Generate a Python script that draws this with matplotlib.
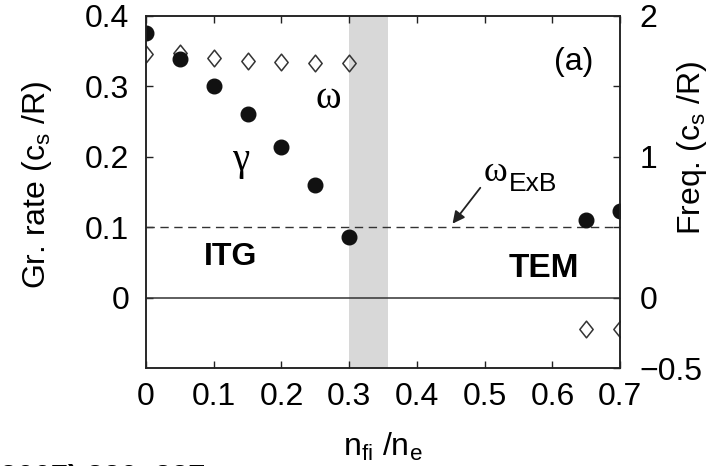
import numpy as np
import matplotlib.pyplot as plt
from matplotlib.path import Path

plt.rcParams['font.family'] = ['Liberation Sans', 'DejaVu Sans']
plt.rcParams['mathtext.fontset'] = 'custom'
plt.rcParams['mathtext.rm'] = 'Liberation Sans'
plt.rcParams['mathtext.it'] = 'Liberation Sans:italic'

# growth rate gamma (left axis) and real frequency omega (right axis)
n_fi = [0.0, 0.05, 0.1, 0.15, 0.2, 0.25, 0.3, 0.65, 0.7]
gamma = [0.376, 0.339, 0.301, 0.261, 0.214, 0.160, 0.086, 0.110, 0.123]
omega = [1.73, 1.74, 1.70, 1.68, 1.67, 1.665, 1.665, -0.22, -0.22]
w_exb = 0.1
band = [0.3, 0.357]

xticks = [0, 0.1, 0.2, 0.3, 0.4, 0.5, 0.6, 0.7]
xticklabels = ['0', '0.1', '0.2', '0.3', '0.4', '0.5', '0.6', '0.7']
lticks = [0, 0.1, 0.2, 0.3, 0.4]
lticklabels = ['0', '0.1', '0.2', '0.3', '0.4']
rticks = [-0.5, 0, 0.5, 1, 1.5, 2]
rticklabels = ['\u22120.5', '0', '', '1', '', '2']

fs = 23
edge = '#222222'

fig = plt.figure(figsize=(7.11, 4.66), dpi=100)
ax = fig.add_axes([0.2053, 0.2103, 0.667, 0.7554])
ax2 = ax.twinx()
ax.set_zorder(ax2.get_zorder() + 1)
ax.patch.set_visible(False)

ax2.axvspan(band[0], band[1], color='#d8d8d8', lw=0, zorder=0)

diamond = Path([(0, 1), (0.8, 0), (0, -1), (-0.8, 0), (0, 1)],
               [Path.MOVETO, Path.LINETO, Path.LINETO, Path.LINETO, Path.CLOSEPOLY])
ax2.plot(n_fi, omega, ls='none', marker=diamond, ms=12, mfc='none',
         mec='#333333', mew=1.1)

ax.axhline(w_exb, color='#333333', lw=1, ls=(0, (6, 4)))
ax.axhline(0, color='#333333', lw=1.1)
ax.plot(n_fi, gamma, ls='none', marker='o', ms=10.5, color='#111111')

ax.set_xlim(0, 0.7)
ax.set_ylim(-0.1, 0.4)
ax2.set_ylim(-0.5, 2)

ax.set_xticks(xticks)
ax.set_xticklabels(xticklabels)
ax.set_yticks(lticks)
ax.set_yticklabels(lticklabels)
ax2.set_yticks(rticks)
ax2.set_yticklabels(rticklabels)

ax.tick_params(axis='x', direction='in', top=True, length=5, width=1,
               color=edge, labelsize=fs, pad=10)
ax.tick_params(axis='y', direction='in', length=5, width=1, color=edge,
               labelsize=fs, pad=12)
ax2.tick_params(axis='y', direction='in', length=5, width=1, color=edge,
                labelsize=fs, pad=14)
for a in (ax, ax2):
    for s in a.spines.values():
        s.set_color(edge)
        s.set_linewidth(1.1)

ax.set_xlabel('n$_\\mathrm{fi}$ /n$_\\mathrm{e}$', fontsize=fs, va='center')
ax.xaxis.set_label_coords(0.5, -0.225)
ax.set_ylabel('Gr. rate (c$_\\mathrm{s}$ /R)', fontsize=fs, va='center')
ax.yaxis.set_label_coords(-0.23, 0.52)
ax2.set_ylabel('Freq. (c$_\\mathrm{s}$ /R)', fontsize=fs, va='center')
ax2.yaxis.set_label_coords(1.152, 0.625)

ax.text(0.269, 0.283, '\u03c9', fontsize=28, family='Liberation Serif',
        ha='center', va='center')
ax.text(0.14, 0.195, '\u03b3', fontsize=28, family='Liberation Serif',
        ha='center', va='center')
ax.text(0.66, 0.335, '(a)', fontsize=fs, ha='right', va='center')
ax.text(0.5155, 0.177, '\u03c9', fontsize=26, family='Liberation Serif',
        ha='center', va='center')
ax.text(0.535, 0.161, 'ExB', fontsize=19, ha='left', va='center')
ax.annotate('', xy=(0.4525, 0.105), xytext=(0.4935, 0.156),
            arrowprops=dict(arrowstyle='-|>', color='#222222', lw=1.3,
                            mutation_scale=18, shrinkA=0, shrinkB=0))
ax.text(0.125, 0.058, 'ITG', fontsize=fs, fontweight='bold',
        ha='center', va='center')
ax.text(0.588, 0.042, 'TEM', fontsize=24, fontweight='bold',
        ha='center', va='center')

fig.text(-0.014, -0.046, '(2007) 320\u2013327', fontsize=22,
         fontweight='bold', ha='left', va='baseline')

fig.savefig('out.png', dpi=100)
